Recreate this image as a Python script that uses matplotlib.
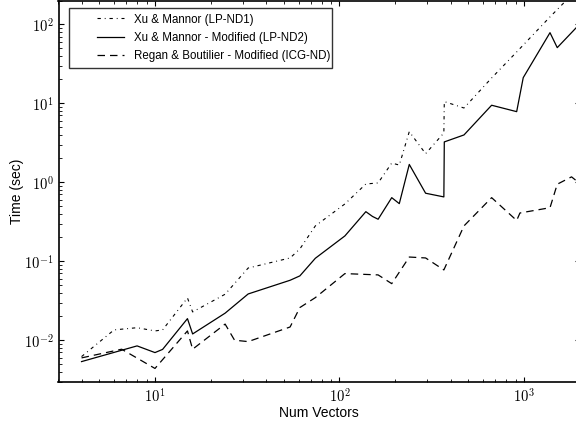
import matplotlib
matplotlib.use("Agg")
import matplotlib.pyplot as plt
from matplotlib.patches import Rectangle
from matplotlib.ticker import FuncFormatter, LogLocator
import numpy as np

plt.rcParams['font.family'] = ['Liberation Sans', 'DejaVu Sans']
plt.rcParams['mathtext.fontset'] = 'cm'
plt.rcParams['axes.linewidth'] = 1.2

# LP-ND1 (Xu & Mannor)
x_lp_nd1 = [4, 6, 8, 10, 11, 15, 16, 24, 32, 54, 61, 74, 107, 139, 162, 192, 211, 239, 293, 368, 370, 473, 668, 913, 1384, 2000]
t_lp_nd1 = [0.0062, 0.0135, 0.0144, 0.0131, 0.0135, 0.0343, 0.0228, 0.0382, 0.082, 0.110, 0.143, 0.280, 0.531, 0.95, 0.98,
            1.75, 1.65, 4.37, 2.30, 4.21, 10.5, 8.71, 20.9, 44.6, 124, 297]

# LP-ND2 (Xu & Mannor - Modified)
x_lp_nd2 = [4, 8, 10, 11, 15, 16, 24, 32, 54, 61, 74, 107, 139, 151, 162, 192, 211, 239, 293, 368, 370, 473, 668, 913, 991, 1384, 1515, 2000]
t_lp_nd2 = [0.00536, 0.00847, 0.00697, 0.00765, 0.01875, 0.0120, 0.0220, 0.0385, 0.0574, 0.0652, 0.109, 0.209, 0.424, 0.369,
            0.340, 0.638, 0.536, 1.68, 0.726, 0.652, 3.24, 3.97, 9.44, 7.83, 21.1, 78.3, 50.6, 100]

# ICG-ND (Regan & Boutilier - Modified)
x_icg_nd = [4, 6.6, 10, 15, 16, 24, 27, 32, 54, 61, 74, 107, 162, 192, 239, 293, 368, 473, 668, 913, 951, 1384, 1515, 1811, 2000]
t_icg_nd = [0.00597, 0.00769, 0.00439, 0.0131, 0.00769, 0.0160, 0.0100, 0.0096, 0.0147, 0.0259, 0.0346, 0.0697, 0.0671,
            0.0520, 0.113, 0.110, 0.0776, 0.280, 0.638, 0.328, 0.408, 0.476, 0.944, 1.17, 0.97]

labels = ["Xu & Mannor (LP-ND1)",
          "Xu & Mannor - Modified (LP-ND2)",
          "Regan & Boutilier - Modified (ICG-ND)"]


def pow10(v, pos):
    # plain mathtext so the digits come out in computer modern
    return r'$10^{%d}$' % int(round(np.log10(v)))


fig = plt.figure(figsize=(5.76, 4.28), dpi=100)
ax = fig.add_axes([58.5 / 576, 46.5 / 428, 521 / 576, 381 / 428])

ax.plot(x_lp_nd1, t_lp_nd1, color='black', lw=0.8, dashes=(3, 3.5, 0.8, 3.5), label=labels[0])
ax.plot(x_lp_nd2, t_lp_nd2, color='black', lw=0.9, label=labels[1])
ax.plot(x_icg_nd, t_icg_nd, color='black', lw=0.9, dashes=(6, 4), label=labels[2])

ax.set_xscale('log')
ax.set_yscale('log')
ax.set_xlim(3, 2000)
ax.set_ylim(0.003, 200)
ax.xaxis.set_major_locator(LogLocator(base=10))
ax.yaxis.set_major_locator(LogLocator(base=10))
ax.xaxis.set_major_formatter(FuncFormatter(pow10))
ax.yaxis.set_major_formatter(FuncFormatter(pow10))

ax.tick_params(which='both', direction='in', top=True, right=True, labelsize=10.5)
ax.set_xlabel("Num Vectors", fontsize=10, labelpad=1)
ax.set_ylabel("Time (sec)", fontsize=10, labelpad=0)

leg = ax.legend(loc='upper left', bbox_to_anchor=((97 - 58.5) / 521, 1 - 13 / 381),
                borderaxespad=0, borderpad=0, frameon=False, fontsize=8.3,
                handlelength=2.3, handletextpad=0.95, labelspacing=0.56)
ax.add_patch(Rectangle((10.5 / 521, 1 - 67.5 / 381), 263 / 521, 60 / 381, transform=ax.transAxes,
                       fill=False, edgecolor='#333333', lw=1.0, zorder=5))

plt.savefig("out.png", dpi=100)
plt.close()
